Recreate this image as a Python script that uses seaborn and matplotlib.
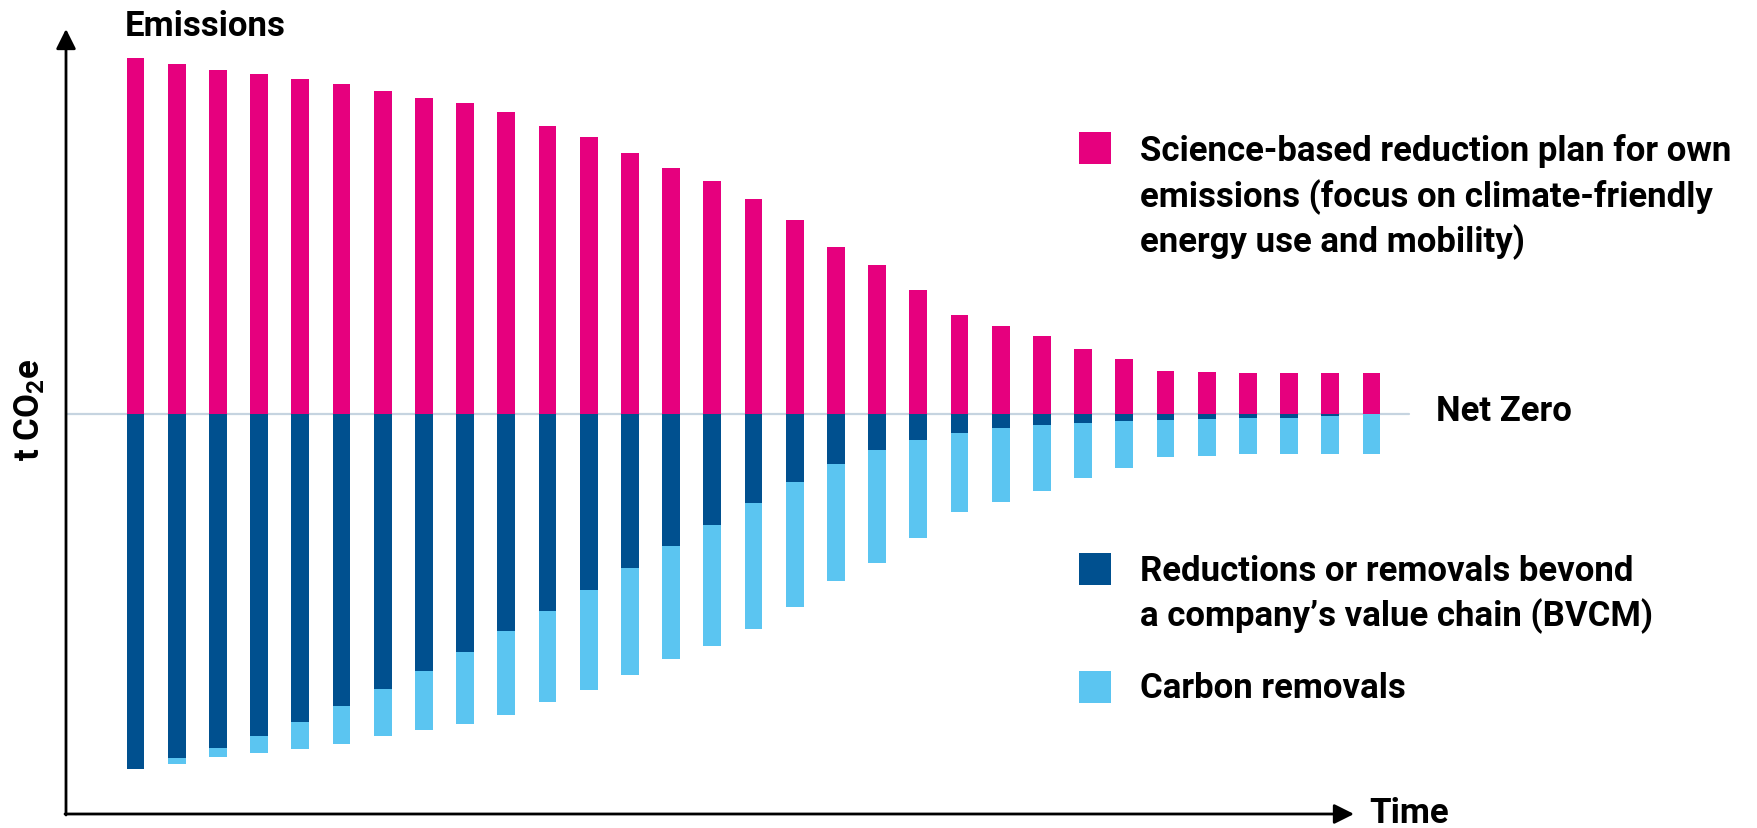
import matplotlib.pyplot as plt
import seaborn as sns
import pandas as pd
from matplotlib.patches import Rectangle

# Values (index: first year's emissions = 100)
periods = list(range(1, 32))
own_emissions = [100, 98.4, 96.5, 95.5, 94.2, 92.8, 90.6, 88.8, 87.3, 84.7,
                 81.0, 77.7, 73.4, 69.0, 65.3, 60.4, 54.4, 46.9, 41.9, 34.9,
                 27.7, 24.7, 21.8, 18.2, 15.4, 12.1, 11.8, 11.4, 11.4, 11.4, 11.4]
bvcm = [100, 96.8, 93.9, 90.5, 86.6, 82.3, 77.5, 72.3, 66.9, 61.1,
        55.4, 49.6, 43.3, 37.3, 31.2, 25.2, 19.2, 14.1, 10.3, 7.5,
        5.4, 4.0, 3.1, 2.5, 2.1, 1.8, 1.6, 1.3, 1.1, 0.7, 0]
removals = [0, 1.6, 2.6, 5.0, 7.6, 10.5, 13.1, 16.5, 20.4, 23.6,
            25.6, 28.1, 30.1, 31.7, 34.1, 35.2, 35.2, 32.8, 31.6, 27.4,
            22.3, 20.7, 18.7, 15.7, 13.3, 10.3, 10.2, 10.1, 10.3, 10.7, 11.4]

legend_labels = {
    'emissions': ['Science-based reduction plan for own',
                  'emissions (focus on climate-friendly',
                  'energy use and mobility)'],
    'bvcm': ['Reductions or removals bevond',
             'a company\u2019s value chain (BVCM)'],
    'removals': ['Carbon removals'],
}

df = pd.DataFrame({'period': periods, 'emissions': own_emissions,
                   'bvcm': bvcm, 'removals': removals})
df['neg_total'] = -(df['bvcm'] + df['removals'])
df['neg_bvcm'] = -df['bvcm']

PINK = '#E6007E'
NAVY = '#00508F'
SKY = '#5BC5F1'

sns.set_style('white')
plt.rcParams['font.family'] = ['Roboto', 'DejaVu Sans']
plt.rcParams['mathtext.default'] = 'regular'

W, H = 1757, 829
fig = plt.figure(figsize=(W / 100, H / 100), dpi=100)
ax = fig.add_axes([0, 0, 1, 1])

bar_kw = dict(width=0.43, saturation=1, errorbar=None, linewidth=0, ax=ax, zorder=2)
sns.barplot(data=df, x='period', y='emissions', color=PINK, **bar_kw)
sns.barplot(data=df, x='period', y='neg_total', color=SKY, **bar_kw)
sns.barplot(data=df, x='period', y='neg_bvcm', color=NAVY, **bar_kw)

# map data to the picture: bars every 41.2 px, 3.557 px per unit, zero at 414.7 px
ax.set_xlim(-135.5 / 41.2, (W - 135.5) / 41.2)
ax.set_ylim(-(H - 414.7) / 3.557, 414.7 / 3.557)
ax.axis('off')


def fx(px):
    return px / W


def fy(py):
    return 1 - py / H


# net zero line
ax.axhline(0, xmin=fx(66), xmax=fx(1409), color='#C6D4E0', lw=1.6, zorder=1)

# arrow axes
arrow = dict(arrowstyle='-|>', color='black', lw=2, mutation_scale=30,
             shrinkA=0, shrinkB=0)
ax.annotate('', xy=(fx(66), fy(30)), xytext=(fx(66), fy(816)),
            xycoords='axes fraction', textcoords='axes fraction', arrowprops=arrow)
ax.annotate('', xy=(fx(1354), fy(815)), xytext=(fx(65), fy(815)),
            xycoords='axes fraction', textcoords='axes fraction', arrowprops=arrow)

txt = dict(fontsize=25, fontweight='semibold', color='black', transform=ax.transAxes)
ax.text(fx(125), fy(36.5), 'Emissions', va='baseline', ha='left', **txt)
ax.text(fx(1369), fy(823), 'Time', va='baseline', ha='left', **txt)
ax.text(fx(1436), fy(421.5), 'Net Zero', va='baseline', ha='left', **txt)
ax.text(fx(30), fy(410), 't CO$_2$e', va='center', ha='center', rotation=90, **txt)

# legend
legend_rows = [('emissions', PINK, 133, [160.7, 206.7, 251.7]),
               ('bvcm', NAVY, 554, [580.7, 626]),
               ('removals', SKY, 671.5, [698.3])]
for key, colour, top, baselines in legend_rows:
    ax.add_patch(Rectangle((fx(1079), fy(top + 32)), 32 / W, 32 / H,
                           transform=ax.transAxes, color=colour, lw=0))
    for line, base in zip(legend_labels[key], baselines):
        ax.text(fx(1140), fy(base), line, va='baseline', ha='left', **txt)

fig.savefig('out.png', dpi=100)
